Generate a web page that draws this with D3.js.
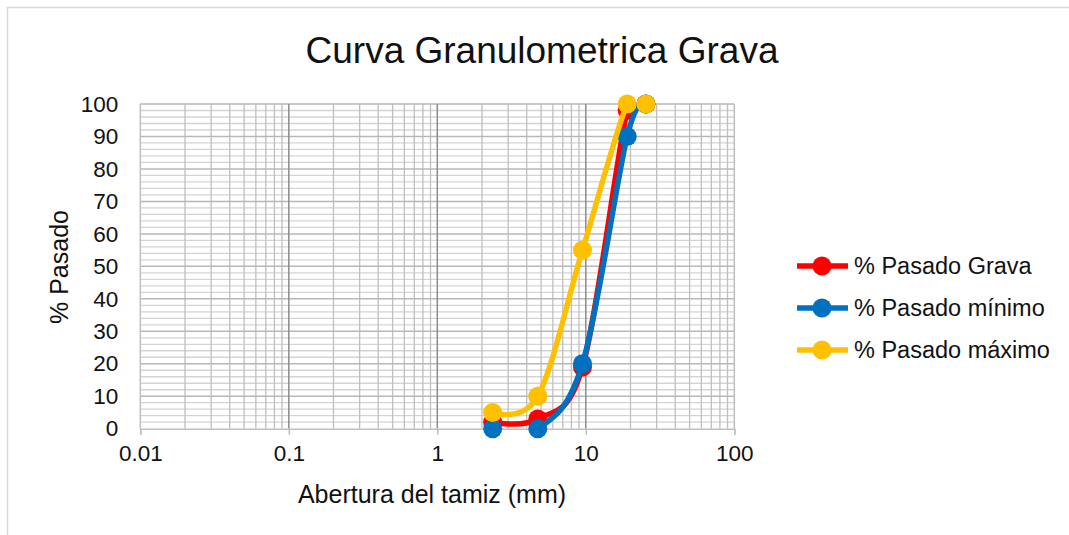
<!DOCTYPE html>
<html><head><meta charset="utf-8">
<script src="https://cdn.jsdelivr.net/npm/d3@7"></script>
<style>html,body{margin:0;padding:0;background:#fff;}svg{display:block;font-family:"Liberation Sans",Arial,sans-serif;}</style>
</head><body>
<script>
const sieves = [2.36, 4.75, 9.5, 19, 25.4];
const pasadoGrava = [2, 3, 19, 98, 100];
const pasadoMinimo = [0, 0, 20, 90, 100];
const pasadoMaximo = [5, 10, 55, 100, 100];
const seriesNames = ["% Pasado Grava", "% Pasado mínimo", "% Pasado máximo"];
const seriesColors = ["#FF0000", "#0070C0", "#FFC000"];
const xTickValues = [0.01, 0.1, 1, 10, 100];
const xTickLabels = ["0.01", "0.1", "1", "10", "100"];
const yTickValues = [0,10,20,30,40,50,60,70,80,90,100];
const titleText = "Curva Granulometrica Grava";
const xTitle = "Abertura del tamiz (mm)";
const yTitle = "% Pasado";

const W = 1069, H = 535;
const svg = d3.select("body").append("svg").attr("width", W).attr("height", H);
svg.append("rect").attr("x", 7.5).attr("y", 7.5).attr("width", W + 20).attr("height", H + 20)
  .attr("fill", "#fff").attr("stroke", "#d9d9d9").attr("stroke-width", 1.5);

const L = 140.3, R = 734.3, T = 104, B = 428.7;
const x = d3.scaleLog().domain([0.01, 100]).range([L, R]);
const y = d3.scaleLinear().domain([0, 100]).range([B, T]);

svg.append("defs").append("clipPath").attr("id", "plotclip")
  .append("rect").attr("x", L).attr("y", T).attr("width", R - L).attr("height", B - T);

const g = svg.append("g");
// minor horizontal grid
const yMinor = d3.range(0, 101, 2).filter(v => v % 10 !== 0);
g.selectAll(".hmin").data(yMinor).enter().append("line")
  .attr("x1", L).attr("x2", R).attr("y1", d => y(d)).attr("y2", d => y(d))
  .attr("stroke", "#d4d4d4").attr("stroke-width", 1.3);
// minor vertical grid
const xMinor = [];
[0.01, 0.1, 1, 10].forEach(dec => { for (let k = 2; k <= 9; k++) xMinor.push(dec * k); });
g.selectAll(".vmin").data(xMinor).enter().append("line")
  .attr("x1", d => x(d)).attr("x2", d => x(d)).attr("y1", T).attr("y2", B)
  .attr("stroke", "#bfbfbf").attr("stroke-width", 1.3);
// major horizontal grid
g.selectAll(".hmaj").data(yTickValues.filter(v => v > 0)).enter().append("line")
  .attr("x1", L).attr("x2", R).attr("y1", d => y(d)).attr("y2", d => y(d))
  .attr("stroke", "#b8b8b8").attr("stroke-width", 1.5);
// major vertical grid
g.selectAll(".vmaj").data(xTickValues).enter().append("line")
  .attr("x1", d => x(d)).attr("x2", d => x(d)).attr("y1", T).attr("y2", B)
  .attr("stroke", d => (d === 0.01 || d === 100) ? "#bfbfbf" : "#8c8c8c").attr("stroke-width", 1.5);

// x axis
const xAxis = d3.axisBottom(x).tickValues(xTickValues).tickFormat((d, i) => xTickLabels[i]).tickSize(6).tickPadding(10);
const xa = svg.append("g").attr("transform", `translate(0,${B})`).call(xAxis);
xa.select(".domain").attr("stroke", "#bfbfbf").attr("stroke-width", 1.5);
xa.selectAll(".tick line").attr("stroke", "#bfbfbf").attr("stroke-width", 1.5);
xa.selectAll(".tick text").attr("font-size", 22.5).attr("fill", "#111").attr("font-family", "Liberation Sans, Arial, sans-serif");

// y axis
const yAxis = d3.axisLeft(y).tickValues(yTickValues).tickSize(0).tickPadding(22);
const ya = svg.append("g").attr("transform", `translate(${L},0)`).call(yAxis);
ya.select(".domain").remove();
ya.selectAll(".tick text").attr("font-size", 22.5).attr("fill", "#111").attr("font-family", "Liberation Sans, Arial, sans-serif");

// titles
svg.append("text").attr("x", 542).attr("y", 63).attr("text-anchor", "middle")
  .attr("font-size", 37).attr("fill", "#111").text(titleText);
svg.append("text").attr("x", 432).attr("y", 503).attr("text-anchor", "middle")
  .attr("font-size", 25).attr("fill", "#111").text(xTitle);
svg.append("text").attr("transform", "translate(68,267) rotate(-90)").attr("text-anchor", "middle")
  .attr("font-size", 25).attr("fill", "#111").text(yTitle);

// series
const allSeries = [pasadoGrava, pasadoMinimo, pasadoMaximo];
const line = d3.line().x(d => x(d[0])).y(d => y(d[1])).curve(d3.curveCatmullRom.alpha(0));
allSeries.forEach((vals, i) => {
  const pts = sieves.map((s, j) => [s, vals[j]]);
  const sg = svg.append("g");
  sg.append("path").attr("d", line(pts)).attr("fill", "none").attr("clip-path", "url(#plotclip)")
    .attr("stroke", seriesColors[i]).attr("stroke-width", 5.5).attr("stroke-linecap", "round");
  sg.selectAll("circle").data(pts).enter().append("circle")
    .attr("cx", d => x(d[0])).attr("cy", d => y(d[1])).attr("r", 9.5).attr("fill", seriesColors[i]);
});

// legend
const legY = [266, 308, 350];
seriesNames.forEach((name, i) => {
  const lg = svg.append("g").attr("transform", `translate(0,${legY[i]})`);
  lg.append("line").attr("x1", 797).attr("x2", 848).attr("y1", 0).attr("y2", 0)
    .attr("stroke", seriesColors[i]).attr("stroke-width", 5.5);
  lg.append("circle").attr("cx", 822).attr("cy", 0).attr("r", 9.5).attr("fill", seriesColors[i]);
  lg.append("text").attr("x", 854).attr("y", 8).attr("font-size", 23.5).attr("fill", "#111").text(name);
});
</script>
</body></html>
